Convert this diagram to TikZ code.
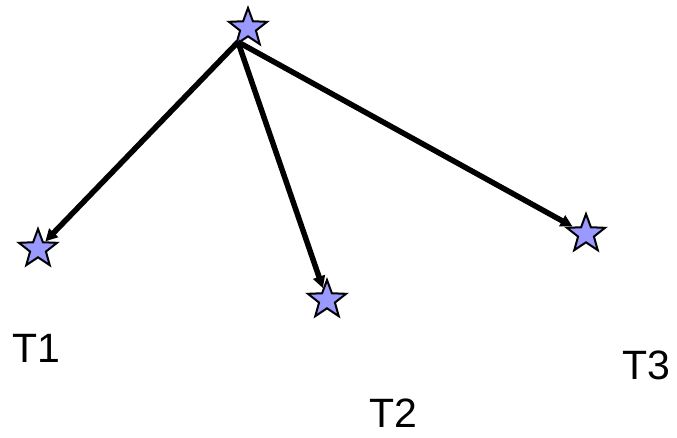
\documentclass[tikz,border=0pt]{standalone}
\usepackage{fontspec}
\setmainfont{Liberation Sans}
\usetikzlibrary{shapes.geometric, arrows.meta, positioning}

\begin{document}
\begin{tikzpicture}[
    x=1pt, y=-1pt,
    site/.style={
        star,
        star points=5,
        star point ratio=2.4,
        minimum size=40pt,
        inner sep=0pt,
        draw=black,
        fill=blue!40!white,
        line width=2pt
    },
    link/.style={
        -{Triangle[length=12pt, width=12pt]},
        draw=black,
        line width=5.5pt
    },
    tag/.style={
        font=\fontsize{41}{49}\selectfont,
        inner sep=0pt
    }
]
    \useasboundingbox (0,0) rectangle (677,438);

    \node (top) [site] at (248,28) {};
    \node (t1) [site] at (38,249) {};
    \node (t2) [site] at (327,300) {};
    \node (t3) [site] at (586,234) {};

    \coordinate (root) at (238,42);

    \node (l1) [tag] at (36,348) {T1};
    \node (l2) [tag] at (393,413) {T2};
    \node (l3) [tag] at (646,365) {T3};

    \draw [link] (root) -- (t1);
    \draw [link] (root) -- (t2);
    \draw [link] (root) -- (t3);

\end{tikzpicture}
\end{document}
